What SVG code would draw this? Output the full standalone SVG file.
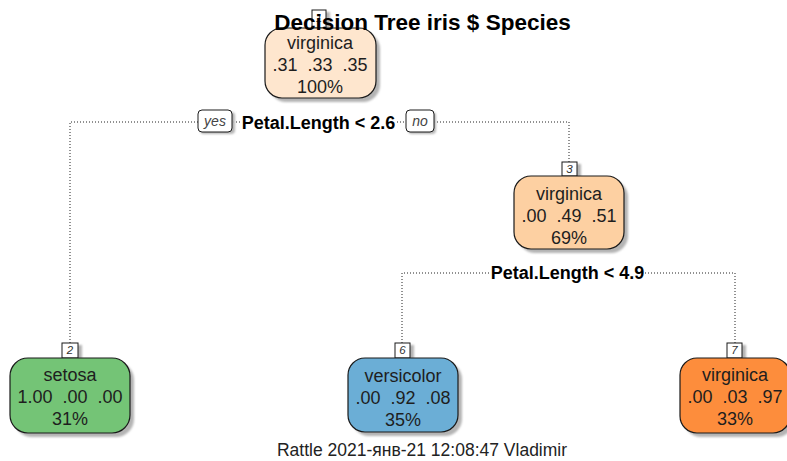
<svg xmlns="http://www.w3.org/2000/svg" width="787" height="461" viewBox="0 0 787 461">
<defs>
<filter id="blur" x="-10%" y="-10%" width="130%" height="130%"><feGaussianBlur stdDeviation="1.2"/></filter>
</defs>
<style>
.box{stroke:#1a1a1a;stroke-width:1.2}
.shadow{fill:#b4b4b4;filter:url(#blur)}
.t{font-family:"Liberation Sans",Arial,sans-serif;font-size:18px;fill:#1e1e1e;text-anchor:middle}
.split{font-family:"Liberation Sans",Arial,sans-serif;font-size:18px;font-weight:bold;fill:#000;text-anchor:middle}
.lab{fill:#fff;stroke:#1a1a1a;stroke-width:1}
.num{font-family:"Liberation Sans",Arial,sans-serif;font-size:11.5px;font-style:italic;fill:#333;text-anchor:middle}
.yn{font-family:"Liberation Sans",Arial,sans-serif;font-size:14px;font-style:italic;fill:#444;text-anchor:middle}
.edge{fill:none;stroke:#222;stroke-width:1;stroke-dasharray:1 2}
</style>
<rect width="787" height="461" fill="#fff"/>

<g id="connectors">
<path class="edge" d="M70 343 V122 H198"/>
<path class="edge" d="M233 122 H240"/>
<path class="edge" d="M397 122 H406"/>
<path class="edge" d="M434 122 H569 V162"/>
<path class="edge" d="M402 343 V273 H490"/>
<path class="edge" d="M645 273 H735 V343"/>
</g>

<g id="split1">
<rect class="shadow" x="200" y="112" width="35" height="22" rx="4"/>
<rect class="lab" x="198" y="110" width="34" height="22" rx="4"/>
<text class="yn" x="215" y="126">yes</text>
<text class="split" x="318.5" y="129">Petal.Length &lt; 2.6</text>
<rect class="shadow" x="408" y="112" width="28" height="22" rx="4"/>
<rect class="lab" x="406" y="110" width="28" height="22" rx="4"/>
<text class="yn" x="420" y="126">no</text>
</g>

<g id="split2">
<text class="split" x="567.5" y="279">Petal.Length &lt; 4.9</text>
</g>

<g id="node1">
<rect class="shadow" x="316" y="12" width="14" height="18"/>
<rect class="lab" x="312" y="10" width="14" height="18"/>
<text class="num" x="319" y="22">1</text>
<rect class="shadow" x="269" y="32" width="111" height="70" rx="17"/>
<rect class="box" x="265" y="28" width="111" height="70" rx="17" fill="#fee6ce"/>
<text class="t" x="320" y="49">virginica</text>
<text class="t" x="320" y="71" xml:space="preserve">.31  .33  .35</text>
<text class="t" x="320" y="93">100%</text>
</g>

<text x="422.5" y="30" font-family="Liberation Sans,Arial,sans-serif" font-size="22.5px" font-weight="bold" fill="#000" text-anchor="middle">Decision Tree iris $ Species</text>

<g id="node3">
<rect class="shadow" x="566" y="164" width="15" height="14"/>
<rect class="lab" x="562" y="162" width="15" height="14"/>
<text class="num" x="569.5" y="173">3</text>
<rect class="shadow" x="518" y="180" width="110" height="73" rx="17"/>
<rect class="box" x="514" y="176" width="110" height="73" rx="17" fill="#fdd0a2"/>
<text class="t" x="569" y="200">virginica</text>
<text class="t" x="569" y="222" xml:space="preserve">.00  .49  .51</text>
<text class="t" x="569" y="244">69%</text>
</g>

<g id="node2">
<rect class="shadow" x="66" y="345" width="16" height="14"/>
<rect class="lab" x="62" y="343" width="16" height="15"/>
<text class="num" x="70" y="354">2</text>
<rect class="shadow" x="14" y="362" width="120" height="75" rx="18"/>
<rect class="box" x="10" y="358" width="120" height="75" rx="18" fill="#74c476"/>
<text class="t" x="70" y="381">setosa</text>
<text class="t" x="70" y="403" xml:space="preserve">1.00  .00  .00</text>
<text class="t" x="70" y="425">31%</text>
</g>

<g id="node6">
<rect class="shadow" x="399" y="345" width="15" height="14"/>
<rect class="lab" x="395" y="343" width="15" height="15"/>
<text class="num" x="402.5" y="354">6</text>
<rect class="shadow" x="352" y="362" width="110" height="74" rx="17"/>
<rect class="box" x="348" y="358" width="110" height="74" rx="17" fill="#6baed6"/>
<text class="t" x="403" y="382">versicolor</text>
<text class="t" x="403" y="404" xml:space="preserve">.00  .92  .08</text>
<text class="t" x="403" y="426">35%</text>
</g>

<g id="node7">
<rect class="shadow" x="731" y="345" width="15" height="14"/>
<rect class="lab" x="727" y="343" width="15" height="15"/>
<text class="num" x="734.5" y="354">7</text>
<rect class="shadow" x="684" y="362" width="110" height="75" rx="17"/>
<rect class="box" x="680" y="358" width="110" height="75" rx="17" fill="#fd8d3c"/>
<text class="t" x="735" y="381">virginica</text>
<text class="t" x="735" y="403" xml:space="preserve">.00  .03  .97</text>
<text class="t" x="735" y="425">33%</text>
</g>

<text x="422" y="456" font-family="Liberation Sans,Arial,sans-serif" font-size="17.5px" fill="#222" text-anchor="middle">Rattle 2021-янв-21 12:08:47 Vladimir</text>
</svg>
